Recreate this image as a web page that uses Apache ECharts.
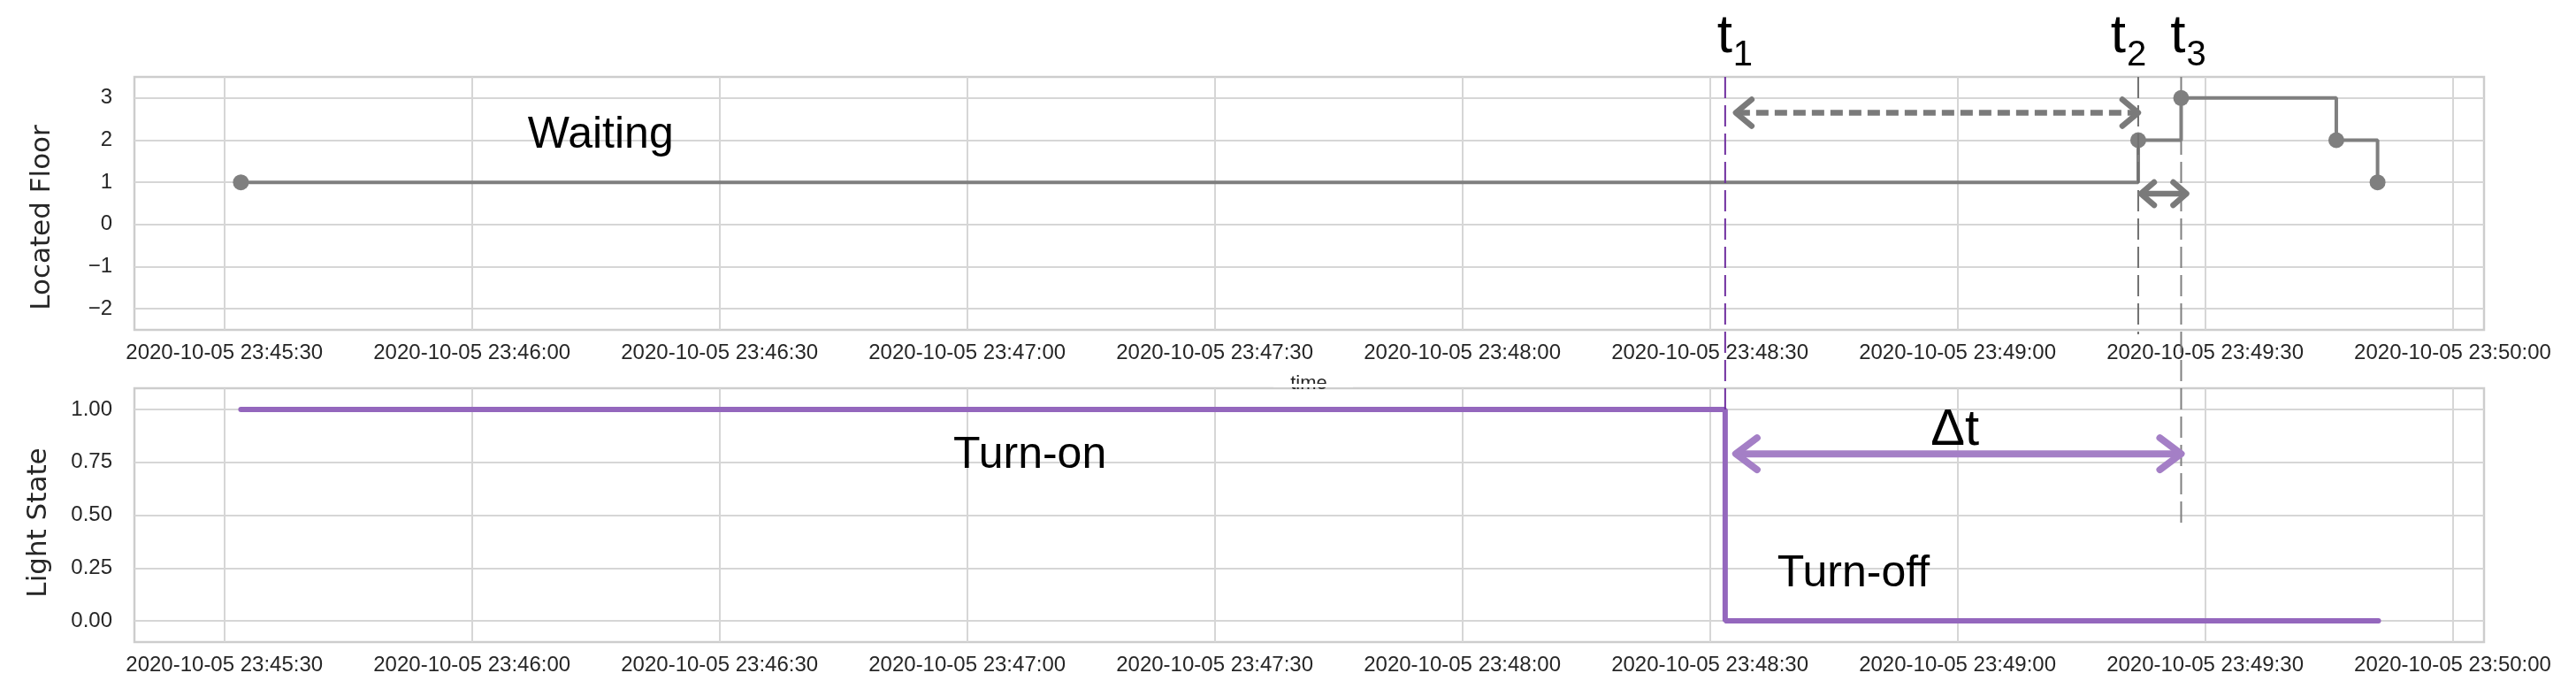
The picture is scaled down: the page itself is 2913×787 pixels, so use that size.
<!DOCTYPE html>
<html>
<head>
<meta charset="utf-8">
<script src="https://cdn.jsdelivr.net/npm/echarts@6/dist/echarts.min.js"></script>
<style>
  html, body { margin: 0; padding: 0; background: #fff; }
  #main { width: 2913px; height: 787px; }
</style>
</head>
<body>
<div id="main"></div>
<script>
// elevator located floor
const floorTimes = ['2020-10-05 23:45:32', '2020-10-05 23:49:21.9', '2020-10-05 23:49:27.1', '2020-10-05 23:49:45.9', '2020-10-05 23:49:50.9']
const floorValues = [1, 2, 3, 2, 1]
// light state
const lightTimes = ['2020-10-05 23:45:32', '2020-10-05 23:48:31.85', '2020-10-05 23:49:51']
const lightValues = [1, 0, 0]
// marked instants t1, t2, t3
const markTimes = ['2020-10-05 23:48:31.85', '2020-10-05 23:49:21.9', '2020-10-05 23:49:27.1']
// ticks
const timeTicks = ['2020-10-05 23:45:30', '2020-10-05 23:46:00', '2020-10-05 23:46:30', '2020-10-05 23:47:00', '2020-10-05 23:47:30',
  '2020-10-05 23:48:00', '2020-10-05 23:48:30', '2020-10-05 23:49:00', '2020-10-05 23:49:30', '2020-10-05 23:50:00']
const floorTicks = [-2, -1, 0, 1, 2, 3]
const lightTicks = [0, 0.25, 0.5, 0.75, 1]
const timeMin = '2020-10-05 23:45:19.1'
const timeMax = '2020-10-05 23:50:03.8'

function toMs (s) {
  let p = s.split(/[- :]/)
  let sec = parseFloat(p[5])
  let whole = Math.floor(sec)
  return new Date(+p[0], +p[1] - 1, +p[2], +p[3], +p[4], whole, Math.round((sec - whole) * 1000)).getTime()
}
function pad (n) { return n < 10 ? '0' + n : '' + n }
function fmtTime (v) {
  let d = new Date(v)
  return d.getFullYear() + '-' + pad(d.getMonth() + 1) + '-' + pad(d.getDate()) + ' ' +
    pad(d.getHours()) + ':' + pad(d.getMinutes()) + ':' + pad(d.getSeconds())
}

const gridColor = '#d6d6d6'
const labelColor = '#262626'
const tickFont = 'Liberation Sans'
const noteFont = '"Liberation Sans Narrow", "Liberation Sans", sans-serif'
const timeTickMs = timeTicks.map(toMs)

function timeAxis (gridIndex) {
  return {
    type: 'value',
    gridIndex: gridIndex,
    min: toMs(timeMin),
    max: toMs(timeMax),
    axisLine: {show: false},
    axisTick: {show: false, customValues: timeTickMs},
    axisLabel: {
      customValues: timeTickMs,
      formatter: fmtTime,
      fontSize: 24,
      fontFamily: tickFont,
      color: labelColor,
      margin: 14,
      hideOverlap: false
    },
    splitLine: {show: true, lineStyle: {color: gridColor, width: 2}}
  }
}

let myChart = echarts.init(document.getElementById('main'))
let option = {
  animation: false,
  backgroundColor: '#fff',
  grid: [
    {left: 152, top: 87, width: 2657, height: 286, show: true, borderColor: '#cdcdcd', borderWidth: 2.5},
    {left: 152, top: 439, width: 2657, height: 287, show: true, borderColor: '#cdcdcd', borderWidth: 2.5}
  ],
  xAxis: [timeAxis(0), timeAxis(1)],
  yAxis: [
    {
      type: 'value',
      gridIndex: 0,
      min: -2.5,
      max: 3.5,
      axisLine: {show: false},
      axisTick: {show: false, customValues: floorTicks},
      axisLabel: {
        customValues: floorTicks,
        formatter: v => (v < 0 ? '\u2212' + Math.abs(v) : String(v)),
        fontSize: 24,
        fontFamily: tickFont,
        color: labelColor,
        margin: 25
      },
      splitLine: {show: true, lineStyle: {color: gridColor, width: 2}}
    },
    {
      type: 'value',
      gridIndex: 1,
      min: -0.1,
      max: 1.1,
      axisLine: {show: false},
      axisTick: {show: false, customValues: lightTicks},
      axisLabel: {
        customValues: lightTicks,
        formatter: v => v.toFixed(2),
        fontSize: 24,
        fontFamily: tickFont,
        color: labelColor,
        margin: 25
      },
      splitLine: {show: true, lineStyle: {color: gridColor, width: 2}}
    }
  ],
  series: [
    {
      name: 'Located Floor',
      type: 'line',
      xAxisIndex: 0,
      yAxisIndex: 0,
      step: 'end',
      symbol: 'circle',
      symbolSize: 18,
      showAllSymbol: true,
      lineStyle: {color: '#7f7f7f', width: 4},
      itemStyle: {color: '#7f7f7f'},
      data: floorTimes.map((t, i) => [toMs(t), floorValues[i]]),
      z: 5
    },
    {
      name: 'Light State',
      type: 'line',
      xAxisIndex: 1,
      yAxisIndex: 1,
      step: 'end',
      showSymbol: false,
      lineStyle: {color: '#9467bd', width: 6, cap: 'round'},
      itemStyle: {color: '#9467bd'},
      data: lightTimes.map((t, i) => [toMs(t), lightValues[i]]),
      z: 5
    }
  ]
}
myChart.setOption(option)

// annotations, placed through the axes
function p0 (t, v) { return myChart.convertToPixel({gridIndex: 0}, [toMs(t), v]) }
function p1 (t, v) { return myChart.convertToPixel({gridIndex: 1}, [toMs(t), v]) }

function vline (x, y1, y2, color) {
  return {type: 'line', z: 20, shape: {x1: x, y1: y1, x2: x, y2: y2},
    style: {stroke: color, lineWidth: 2, lineDash: [24, 8]}}
}
function arrow (xa, xb, y, color, width, dash, ax, ay) {
  return [
    {type: 'line', z: 20, shape: {x1: xa + 2, y1: y, x2: xb - 2, y2: y},
      style: {stroke: color, lineWidth: width, lineDash: dash}},
    {type: 'polyline', z: 20, shape: {points: [[xa + ax, y - ay], [xa, y], [xa + ax, y + ay]]},
      style: {stroke: color, lineWidth: width, fill: null, lineCap: 'round', lineJoin: 'round'}},
    {type: 'polyline', z: 20, shape: {points: [[xb - ax, y - ay], [xb, y], [xb - ax, y + ay]]},
      style: {stroke: color, lineWidth: width, fill: null, lineCap: 'round', lineJoin: 'round'}}
  ]
}
function note (x, y, text, size, align) {
  return {type: 'text', z: 30, x: x, y: y,
    style: {text: text, fontSize: size, fontFamily: noteFont, fill: '#000', align: align || 'center', verticalAlign: 'middle'}}
}

let x1 = p0(markTimes[0], 0)[0]
let x2 = p0(markTimes[1], 0)[0]
let x3 = p0(markTimes[2], 0)[0]
let topY = p0(markTimes[0], 3.5)[1]

let g = []
g.push(vline(x1, topY, p1(markTimes[0], 1)[1], '#7030a0'))
g.push(vline(x2, topY, p0(markTimes[1], -2.5)[1] + 5, '#707070'))
g.push(vline(x3, topY, p1(markTimes[2], 0.45)[1], '#808080'))

let yTop = p0(markTimes[0], 2.65)[1]
g = g.concat(arrow(x1 + 12, x2, yTop, '#7a7a7a', 6.5, [14, 7], 18, 15))
let ySmall = p0(markTimes[1], 0.73)[1]
g = g.concat(arrow(x2 + 3, x3 + 6, ySmall, '#7a7a7a', 6.5, null, 15, 13))
let yPurple = p1(markTimes[0], 0.79)[1]
g = g.concat(arrow(x1 + 12, x3, yPurple, '#a47fc6', 8, null, 24, 18))

// t labels with subscripts
let tOff = [8, -14, 5]
;[x1, x2, x3].forEach((x, i) => {
  g.push(note(x + tOff[i], 42, 't', 62, 'right'))
  g.push(note(x + tOff[i] + 1, 63, String(i + 1), 40, 'left'))
})

let w = p0('2020-10-05 23:46:15.6', 2.12)
g.push(note(w[0], w[1], 'Waiting', 50))
let on = p1('2020-10-05 23:47:07.6', 0.78)
g.push(note(on[0], on[1], 'Turn-on', 50))
let off = p1('2020-10-05 23:48:47.4', 0.22)
g.push(note(off[0], off[1], 'Turn-off', 50))
let dt = p1('2020-10-05 23:48:59.7', 0.9)
g.push(note(dt[0], dt[1], '\u0394t', 58))

// axis titles
g.push({type: 'text', z: 30, x: 48, y: 246, rotation: Math.PI / 2,
  style: {text: 'Located Floor', fontSize: 31, fontFamily: 'DejaVu Sans', fill: labelColor, align: 'center', verticalAlign: 'middle'}})
g.push({type: 'text', z: 30, x: 44, y: 591, rotation: Math.PI / 2,
  style: {text: 'Light State', fontSize: 31, fontFamily: 'DejaVu Sans', fill: labelColor, align: 'center', verticalAlign: 'middle'}})
// x title of the upper plot, mostly hidden under the lower plot
g.push({type: 'text', z: 1, x: 1480, y: 434, style: {text: 'time', fontSize: 22, fontFamily: tickFont, fill: labelColor, align: 'center', verticalAlign: 'middle'}})
g.push({type: 'rect', z: 2, shape: {x: 1440, y: 434, width: 90, height: 4}, style: {fill: '#fff'}})

myChart.setOption({graphic: g})
</script>
</body>
</html>
